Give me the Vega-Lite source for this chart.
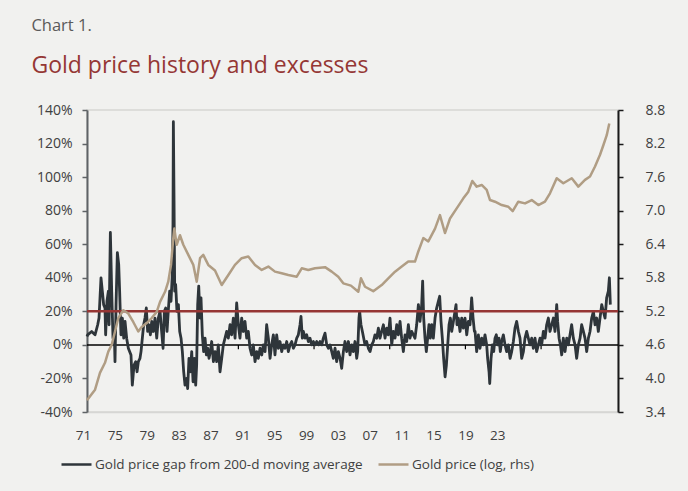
{
"$schema": "https://vega.github.io/schema/vega-lite/v6.json",
"width": 531, "height": 302,
"autosize": {"type": "none"},
"padding": {"left": 87, "top": 110, "right": 70, "bottom": 79},
"background": "#f1f1ef",
"view": {"stroke": "#d6d6d4", "strokeWidth": 1.5},
"config": {"font": "Open Sans"},
"title": {"text": "Chart 1.", "subtitle": "Gold price history and excesses", "anchor": "start", "frame": "bounds", "dx": -5, "fontSize": 16.5, "fontWeight": "normal", "color": "#5a5a5a", "subtitleFontSize": 23, "subtitleColor": "#953735", "subtitlePadding": 21, "offset": 25, "font": "Open Sans", "subtitleFont": "Open Sans"},
"datasets": {
"gap": [
{"t":1971.0,"g":5},{"t":1971.07,"g":6},{"t":1971.49,"g":8},{"t":1971.85,"g":6},{"t":1972.13,"g":12},{"t":1972.27,"g":16},{"t":1972.48,"g":40},{"t":1972.62,"g":32},{"t":1972.76,"g":24},{"t":1972.9,"g":22},{"t":1972.97,"g":6},{"t":1973.11,"g":26},{"t":1973.26,"g":32},{"t":1973.33,"g":12},{"t":1973.47,"g":67},{"t":1973.61,"g":32},{"t":1973.75,"g":4},{"t":1973.89,"g":6},{"t":1973.96,"g":-10},{"t":1974.07,"g":24},{"t":1974.21,"g":55},{"t":1974.35,"g":48},{"t":1974.45,"g":32},{"t":1974.59,"g":6},{"t":1974.74,"g":16},{"t":1974.88,"g":4},{"t":1975.02,"g":14},{"t":1975.19,"g":4},{"t":1975.37,"g":-2},{"t":1975.65,"g":-6},{"t":1975.79,"g":-24},{"t":1975.97,"g":-12},{"t":1976.15,"g":-10},{"t":1976.29,"g":-16},{"t":1976.43,"g":-10},{"t":1976.6,"g":-8},{"t":1976.71,"g":-4},{"t":1976.85,"g":4},{"t":1976.99,"g":12},{"t":1977.13,"g":16},{"t":1977.27,"g":22},{"t":1977.41,"g":8},{"t":1977.55,"g":12},{"t":1977.7,"g":6},{"t":1977.84,"g":14},{"t":1978.01,"g":8},{"t":1978.19,"g":16},{"t":1978.37,"g":4},{"t":1978.54,"g":16},{"t":1978.72,"g":20},{"t":1978.89,"g":8},{"t":1979.04,"g":-2},{"t":1979.18,"g":20},{"t":1979.32,"g":22},{"t":1979.46,"g":8},{"t":1979.6,"g":21},{"t":1979.74,"g":32},{"t":1979.88,"g":26},{"t":1980.02,"g":42},{"t":1980.09,"g":72},{"t":1980.13,"g":133},{"t":1980.2,"g":86},{"t":1980.27,"g":32},{"t":1980.37,"g":36},{"t":1980.51,"g":20},{"t":1980.66,"g":24},{"t":1980.8,"g":8},{"t":1980.94,"g":4},{"t":1981.08,"g":-4},{"t":1981.22,"g":-16},{"t":1981.36,"g":-24},{"t":1981.54,"g":-20},{"t":1981.64,"g":-26},{"t":1981.78,"g":-8},{"t":1981.92,"g":-16},{"t":1982.07,"g":-4},{"t":1982.21,"g":-22},{"t":1982.35,"g":-8},{"t":1982.49,"g":-24},{"t":1982.59,"g":-12},{"t":1982.7,"g":24},{"t":1982.81,"g":35},{"t":1982.95,"g":16},{"t":1983.05,"g":28},{"t":1983.19,"g":6},{"t":1983.33,"g":-4},{"t":1983.48,"g":4},{"t":1983.62,"g":-6},{"t":1983.76,"g":-2},{"t":1983.9,"g":-8},{"t":1984.04,"g":-4},{"t":1984.18,"g":2},{"t":1984.36,"g":-10},
{"t":1984.53,"g":-4},{"t":1984.71,"g":-10},{"t":1984.88,"g":0},{"t":1985.06,"g":-16},{"t":1985.24,"g":-8},{"t":1985.41,"g":0},{"t":1985.59,"g":4},{"t":1985.76,"g":8},{"t":1985.94,"g":4},{"t":1986.12,"g":12},{"t":1986.29,"g":6},{"t":1986.47,"g":16},{"t":1986.65,"g":4},{"t":1986.82,"g":25},{"t":1987.0,"g":12},{"t":1987.17,"g":4},{"t":1987.35,"g":16},{"t":1987.53,"g":8},{"t":1987.7,"g":14},{"t":1987.88,"g":4},{"t":1988.05,"g":8},{"t":1988.23,"g":-2},{"t":1988.41,"g":-6},{"t":1988.58,"g":0},{"t":1988.76,"g":-10},{"t":1988.94,"g":-4},{"t":1989.11,"g":-8},{"t":1989.29,"g":-2},{"t":1989.47,"g":-6},{"t":1989.64,"g":0},{"t":1989.82,"g":-4},{"t":1989.99,"g":12},{"t":1990.17,"g":4},{"t":1990.35,"g":-8},{"t":1990.52,"g":0},{"t":1990.7,"g":6},{"t":1990.87,"g":-6},{"t":1991.05,"g":6},{"t":1991.23,"g":-2},{"t":1991.4,"g":2},{"t":1991.58,"g":-4},{"t":1991.76,"g":0},{"t":1991.93,"g":-2},{"t":1992.11,"g":2},{"t":1992.28,"g":-4},{"t":1992.46,"g":0},{"t":1992.64,"g":2},{"t":1992.81,"g":-2},{"t":1992.99,"g":0},{"t":1993.17,"g":4},{"t":1993.34,"g":6},{"t":1993.52,"g":12},{"t":1993.62,"g":17},{"t":1993.76,"g":4},{"t":1993.87,"g":8},{"t":1994.05,"g":4},{"t":1994.22,"g":6},{"t":1994.4,"g":2},{"t":1994.57,"g":4},{"t":1994.75,"g":0},{"t":1994.93,"g":2},{"t":1995.1,"g":0},{"t":1995.28,"g":2},{"t":1995.46,"g":0},{"t":1995.63,"g":2},{"t":1995.81,"g":0},{"t":1995.98,"g":4},{"t":1996.16,"g":7},{"t":1996.34,"g":0},{"t":1996.51,"g":-2},{"t":1996.69,"g":0},{"t":1996.87,"g":-4},{"t":1997.04,"g":-8},{"t":1997.22,"g":-2},{"t":1997.39,"g":-10},{"t":1997.57,"g":-4},{"t":1997.75,"g":-8},{"t":1997.92,"g":-14},{"t":1998.1,"g":-4},
{"t":1998.27,"g":2},{"t":1998.45,"g":-4},{"t":1998.63,"g":2},{"t":1998.8,"g":-6},{"t":1998.98,"g":0},{"t":1999.15,"g":-4},{"t":1999.33,"g":2},{"t":1999.51,"g":-8},{"t":1999.61,"g":-4},{"t":1999.75,"g":16},{"t":1999.82,"g":20},{"t":1999.96,"g":12},{"t":2000.11,"g":8},{"t":2000.25,"g":4},{"t":2000.39,"g":0},{"t":2000.56,"g":2},{"t":2000.74,"g":-2},{"t":2000.92,"g":-4},{"t":2001.09,"g":0},{"t":2001.27,"g":2},{"t":2001.44,"g":6},{"t":2001.62,"g":4},{"t":2001.8,"g":10},{"t":2001.97,"g":4},{"t":2002.15,"g":8},{"t":2002.33,"g":12},{"t":2002.5,"g":4},{"t":2002.68,"g":10},{"t":2002.85,"g":6},{"t":2003.03,"g":16},{"t":2003.21,"g":0},{"t":2003.38,"g":8},{"t":2003.56,"g":4},{"t":2003.74,"g":12},{"t":2003.91,"g":6},{"t":2004.09,"g":14},{"t":2004.26,"g":4},{"t":2004.44,"g":-4},{"t":2004.62,"g":6},{"t":2004.79,"g":2},{"t":2004.97,"g":12},{"t":2005.14,"g":4},{"t":2005.32,"g":8},{"t":2005.5,"g":6},{"t":2005.67,"g":4},{"t":2005.85,"g":12},{"t":2006.03,"g":24},{"t":2006.2,"g":14},{"t":2006.38,"g":24},{"t":2006.48,"g":38},{"t":2006.59,"g":16},{"t":2006.73,"g":4},{"t":2006.87,"g":-4},{"t":2007.01,"g":4},{"t":2007.15,"g":12},{"t":2007.29,"g":4},{"t":2007.44,"g":12},{"t":2007.61,"g":4},{"t":2007.79,"g":16},{"t":2007.96,"g":22},{"t":2008.14,"g":26},{"t":2008.28,"g":29},{"t":2008.42,"g":14},{"t":2008.56,"g":4},{"t":2008.7,"g":-8},{"t":2008.85,"g":-19},{"t":2008.99,"g":-12},{"t":2009.13,"g":0},{"t":2009.27,"g":12},{"t":2009.41,"g":16},{"t":2009.55,"g":8},{"t":2009.73,"g":14},{"t":2009.9,"g":20},{"t":2010.01,"g":24},{"t":2010.11,"g":12},{"t":2010.25,"g":16},{"t":2010.43,"g":8},{"t":2010.61,"g":16},{"t":2010.78,"g":10},{"t":2010.96,"g":16},{"t":2011.14,"g":6},{"t":2011.31,"g":14},{"t":2011.49,"g":12},{"t":2011.66,"g":28},{"t":2011.81,"g":16},{"t":2011.95,"g":8},
{"t":2012.02,"g":8},{"t":2012.19,"g":-4},{"t":2012.37,"g":6},{"t":2012.54,"g":-2},{"t":2012.72,"g":4},{"t":2012.9,"g":0},{"t":2013.07,"g":6},{"t":2013.25,"g":0},{"t":2013.35,"g":-8},{"t":2013.5,"g":-16},{"t":2013.57,"g":-23},{"t":2013.71,"g":-8},{"t":2013.85,"g":0},{"t":2013.99,"g":-4},{"t":2014.13,"g":4},{"t":2014.27,"g":6},{"t":2014.41,"g":0},{"t":2014.55,"g":4},{"t":2014.69,"g":-4},{"t":2014.83,"g":2},{"t":2015.01,"g":6},{"t":2015.19,"g":0},{"t":2015.36,"g":-4},{"t":2015.54,"g":0},{"t":2015.72,"g":-8},{"t":2015.89,"g":-4},{"t":2016.07,"g":2},{"t":2016.24,"g":10},{"t":2016.42,"g":14},{"t":2016.6,"g":8},{"t":2016.77,"g":4},{"t":2016.95,"g":-8},{"t":2017.13,"g":-4},{"t":2017.3,"g":4},{"t":2017.48,"g":8},{"t":2017.65,"g":4},{"t":2017.83,"g":0},{"t":2018.01,"g":4},{"t":2018.18,"g":-2},{"t":2018.36,"g":4},{"t":2018.53,"g":-4},{"t":2018.71,"g":0},{"t":2018.89,"g":4},{"t":2019.06,"g":0},{"t":2019.24,"g":8},{"t":2019.42,"g":4},{"t":2019.59,"g":12},{"t":2019.77,"g":16},{"t":2019.94,"g":8},{"t":2020.12,"g":12},{"t":2020.3,"g":16},{"t":2020.47,"g":8},{"t":2020.65,"g":24},{"t":2020.75,"g":14},{"t":2020.9,"g":4},{"t":2021.04,"g":0},{"t":2021.18,"g":-6},{"t":2021.35,"g":4},{"t":2021.53,"g":-4},{"t":2021.71,"g":4},{"t":2021.88,"g":0},{"t":2022.06,"g":6},{"t":2022.23,"g":12},{"t":2022.41,"g":4},{"t":2022.59,"g":0},{"t":2022.76,"g":-8},{"t":2022.94,"g":0},{"t":2023.12,"g":4},{"t":2023.29,"g":12},{"t":2023.47,"g":8},{"t":2023.64,"g":4},{"t":2023.82,"g":-4},{"t":2024.0,"g":4},{"t":2024.17,"g":8},{"t":2024.35,"g":16},{"t":2024.53,"g":20},{"t":2024.7,"g":12},{"t":2024.88,"g":16},{"t":2025.05,"g":8},{"t":2025.23,"g":16},{"t":2025.41,"g":24},{"t":2025.58,"g":20},{"t":2025.76,"g":16},{"t":2025.93,"g":28},{"t":2026.11,"g":32},{"t":2026.22,"g":40},{"t":2026.32,"g":24}
],
"gold": [
{"t":1971.0,"v":3.61},{"t":1971.85,"v":3.8},{"t":1972.37,"v":4.1},{"t":1972.9,"v":4.28},{"t":1973.25,"v":4.48},{"t":1973.61,"v":4.6},{"t":1973.96,"v":4.84},{"t":1974.31,"v":5.08},{"t":1974.84,"v":5.22},{"t":1975.37,"v":5.16},{"t":1975.89,"v":5.01},{"t":1976.42,"v":4.84},{"t":1976.78,"v":4.92},{"t":1977.31,"v":4.99},{"t":1977.84,"v":5.08},{"t":1978.37,"v":5.19},{"t":1978.72,"v":5.37},{"t":1979.25,"v":5.55},{"t":1979.59,"v":5.73},{"t":1979.88,"v":6.03},{"t":1980.12,"v":6.51},{"t":1980.23,"v":6.68},{"t":1980.48,"v":6.39},{"t":1980.83,"v":6.56},{"t":1981.18,"v":6.39},{"t":1981.71,"v":6.21},{"t":1982.24,"v":6.03},{"t":1982.6,"v":5.73},{"t":1982.95,"v":6.15},{"t":1983.29,"v":6.21},{"t":1983.82,"v":6.03},{"t":1984.53,"v":5.93},{"t":1985.24,"v":5.67},{"t":1985.94,"v":5.85},{"t":1986.64,"v":6.03},{"t":1987.35,"v":6.15},{"t":1988.05,"v":6.18},{"t":1988.76,"v":6.03},{"t":1989.47,"v":5.94},{"t":1990.17,"v":6.0},{"t":1990.87,"v":5.91},{"t":1991.58,"v":5.88},{"t":1992.28,"v":5.85},{"t":1993.17,"v":5.82},{"t":1993.7,"v":5.97},{"t":1994.39,"v":5.94},{"t":1995.1,"v":5.97},{"t":1996.16,"v":5.99},{"t":1996.87,"v":5.91},{"t":1997.56,"v":5.82},{"t":1998.09,"v":5.7},{"t":1998.9,"v":5.66},{"t":1999.68,"v":5.55},{"t":1999.96,"v":5.79},{"t":2000.39,"v":5.64},{"t":2001.26,"v":5.56},{"t":2002.15,"v":5.67},{"t":2002.85,"v":5.79},{"t":2003.56,"v":5.91},{"t":2004.27,"v":6.0},{"t":2004.96,"v":6.09},{"t":2005.67,"v":6.09},{"t":2006.02,"v":6.27},{"t":2006.55,"v":6.51},{"t":2007.08,"v":6.45},{"t":2007.79,"v":6.68},{"t":2008.31,"v":6.92},{"t":2008.84,"v":6.6},{"t":2009.37,"v":6.86},{"t":2010.08,"v":7.04},{"t":2010.78,"v":7.22},{"t":2011.31,"v":7.34},{"t":2011.73,"v":7.53},{"t":2012.19,"v":7.43},{"t":2012.72,"v":7.46},{"t":2013.25,"v":7.37},{"t":2013.6,"v":7.19},{"t":2014.13,"v":7.16},{"t":2014.84,"v":7.1},{"t":2015.54,"v":7.07},{"t":2016.0,"v":6.99},{"t":2016.59,"v":7.16},{"t":2017.3,"v":7.13},{"t":2018.01,"v":7.19},{"t":2018.71,"v":7.1},{"t":2019.41,"v":7.16},{"t":2019.94,"v":7.31},{"t":2020.65,"v":7.58},{"t":2021.35,"v":7.49},{"t":2022.24,"v":7.58},{"t":2022.94,"v":7.43},{"t":2023.64,"v":7.55},{"t":2024.17,"v":7.61},{"t":2024.7,"v":7.79},{"t":2025.23,"v":8.0},{"t":2025.58,"v":8.17},{"t":2025.94,"v":8.35},{"t":2026.21,"v":8.56}
],
"ticks": [{"t":1979},{"t":1987},{"t":1995},{"t":2003},{"t":2011},{"t":2019}]
},
"layer": [
{"layer": [
 {"data": {"values": [{"level": 0}]}, "mark": {"type": "rule", "color": "#000000", "strokeWidth": 1.5},
  "encoding": {"y": {"field": "level", "type": "quantitative", "title": null, "scale": {"domain": [-40, 140], "nice": false, "zero": false},
     "axis": {"orient": "left", "title": null, "grid": false, "values": [-40,-20,0,20,40,60,80,100,120,140], "labelExpr": "datum.value + '%'", "labelOverlap": false, "labelBound": false, "labelFlush": false, "domainColor": "#5f6366", "domainWidth": 2, "tickColor": "#5f6366", "tickWidth": 1.5, "tickSize": 5, "labelFontSize": 14, "labelColor": "#404040", "labelPadding": 10}}}},
 {"data": {"name": "ticks"}, "mark": {"type": "rule", "color": "#000000", "strokeWidth": 1.2},
  "encoding": {"x": {"field": "t", "type": "quantitative", "title": null, "scale": {"domain": [1971, 2027.13], "nice": false, "zero": false},
     "axis": {"title": null, "grid": false, "ticks": false, "domainColor": "#d6d6d4", "domainWidth": 1.5, "labelPadding": 16, "labelFontSize": 13.5, "labelColor": "#404040", "labelOffset": -4, "labelFlush": false, "labelOverlap": false, "labelBound": false,
       "values": [1971, 1974.369, 1977.738, 1981.107, 1984.476, 1987.845, 1991.214, 1994.583, 1997.952, 2001.321, 2004.69, 2008.059, 2011.428, 2014.797],
       "labelExpr": "['71','75','79','83','87','91','95','99','03','07','11','15','19','23'][round((datum.value-1971)/3.369)]"}},
   "y": {"datum": 0, "type": "quantitative", "title": null,
     "axis": {"orient": "left", "title": null, "grid": false, "values": [-40,-20,0,20,40,60,80,100,120,140], "labelExpr": "datum.value + '%'", "labelOverlap": false, "labelBound": false, "labelFlush": false, "domainColor": "#5f6366", "domainWidth": 2, "tickColor": "#5f6366", "tickWidth": 1.5, "tickSize": 5, "labelFontSize": 14, "labelColor": "#404040", "labelPadding": 10}},
   "y2": {"datum": -2.6}}},
 {"data": {"name": "gap"}, "mark": {"type": "line", "strokeWidth": 2.8, "strokeJoin": "round"},
  "encoding": {
   "x": {"field": "t", "type": "quantitative", "title": null, "scale": {"domain": [1971, 2027.13], "nice": false, "zero": false},
     "axis": {"title": null, "grid": false, "ticks": false, "domainColor": "#d6d6d4", "domainWidth": 1.5, "labelPadding": 16, "labelFontSize": 13.5, "labelColor": "#404040", "labelOffset": -4, "labelFlush": false, "labelOverlap": false, "labelBound": false,
       "values": [1971, 1974.369, 1977.738, 1981.107, 1984.476, 1987.845, 1991.214, 1994.583, 1997.952, 2001.321, 2004.69, 2008.059, 2011.428, 2014.797],
       "labelExpr": "['71','75','79','83','87','91','95','99','03','07','11','15','19','23'][round((datum.value-1971)/3.369)]"}},
   "y": {"field": "g", "type": "quantitative", "title": null, "scale": {"domain": [-40, 140], "nice": false, "zero": false},
     "axis": {"orient": "left", "title": null, "grid": false, "values": [-40,-20,0,20,40,60,80,100,120,140], "labelExpr": "datum.value + '%'", "labelOverlap": false, "labelBound": false, "labelFlush": false, "domainColor": "#5f6366", "domainWidth": 2, "tickColor": "#5f6366", "tickWidth": 1.5, "tickSize": 5, "labelFontSize": 14, "labelColor": "#404040", "labelPadding": 10}},
   "color": {"datum": "Gold price gap from 200-d moving average", "type": "nominal",
     "scale": {"domain": ["Gold price gap from 200-d moving average", "Gold price (log, rhs)"], "range": ["#2e353a", "#b09d84"]},
     "legend": {"orient": "none", "legendX": -27, "legendY": 338, "direction": "horizontal", "title": null, "symbolType": "stroke", "symbolStrokeWidth": 2.5, "symbolSize": 900, "labelFontSize": 13.5, "labelColor": "#404040", "labelLimit": 0, "columnPadding": 10, "labelOffset": 2}}
  }},
 {"data": {"values": [{"level": 20}]}, "mark": {"type": "rule", "color": "#963634", "strokeWidth": 2.5},
  "encoding": {"y": {"field": "level", "type": "quantitative", "title": null,
     "axis": {"orient": "left", "title": null, "grid": false, "values": [-40,-20,0,20,40,60,80,100,120,140], "labelExpr": "datum.value + '%'", "labelOverlap": false, "labelBound": false, "labelFlush": false, "domainColor": "#5f6366", "domainWidth": 2, "tickColor": "#5f6366", "tickWidth": 1.5, "tickSize": 5, "labelFontSize": 14, "labelColor": "#404040", "labelPadding": 10}}}}
]},
{"data": {"name": "gold"}, "mark": {"type": "line", "strokeWidth": 2.5, "strokeJoin": "round"},
 "encoding": {
  "x": {"field": "t", "type": "quantitative", "title": null, "scale": {"domain": [1971, 2027.13], "nice": false, "zero": false},
     "axis": {"title": null, "grid": false, "ticks": false, "domainColor": "#d6d6d4", "domainWidth": 1.5, "labelPadding": 16, "labelFontSize": 13.5, "labelColor": "#404040", "labelOffset": -4, "labelFlush": false, "labelOverlap": false, "labelBound": false,
       "values": [1971, 1974.369, 1977.738, 1981.107, 1984.476, 1987.845, 1991.214, 1994.583, 1997.952, 2001.321, 2004.69, 2008.059, 2011.428, 2014.797],
       "labelExpr": "['71','75','79','83','87','91','95','99','03','07','11','15','19','23'][round((datum.value-1971)/3.369)]"}},
  "y": {"field": "v", "type": "quantitative", "title": null, "scale": {"domain": [3.4, 8.8], "nice": false, "zero": false},
    "axis": {"orient": "right", "title": null, "grid": false, "values": [3.4,4.0,4.6,5.2,5.8,6.4,7.0,7.6,8.2,8.8], "format": ".1f", "labelOverlap": false, "labelBound": false, "labelFlush": false, "domainColor": "#1a1a1a", "domainWidth": 2, "tickColor": "#1a1a1a", "tickWidth": 1.5, "tickSize": 5, "labelFontSize": 14, "labelColor": "#404040", "labelPadding": 22}},
  "color": {"datum": "Gold price (log, rhs)", "type": "nominal"}
 }}
],
"resolve": {"scale": {"y": "independent"}, "axis": {"y": "independent"}}
}
